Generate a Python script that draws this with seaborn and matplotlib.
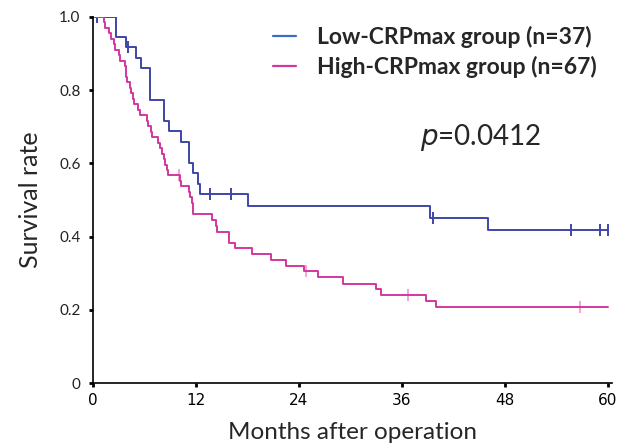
import pandas as pd
import matplotlib.pyplot as plt
import seaborn as sns

# Kaplan-Meier steps (time in months, survival after the step)
low_times = [0, 2.7, 3.9, 5.0, 5.6, 6.6, 6.7, 8.3, 8.9, 10.2, 11.2, 11.6, 12.2, 12.45,
             18.1, 39.3, 46.0, 60]
low_surv = [1.0, 0.944, 0.917, 0.888, 0.860, 0.831, 0.774, 0.717, 0.688, 0.659, 0.602,
            0.573, 0.545, 0.516, 0.484, 0.452, 0.417, 0.417]
low_cens_t = [0.5, 4.1, 13.6, 16.1, 39.6, 55.7, 59.1, 60.0]
low_cens_s = [1.0, 0.917, 0.516, 0.516, 0.452, 0.417, 0.417, 0.417]

high_times = [0, 1.3, 1.4, 1.9, 2.1, 2.5, 2.6, 3.0, 3.1, 3.7, 3.8, 3.9, 4.0, 4.3, 4.4,
              4.7, 4.8, 5.2, 5.5, 6.3, 6.4, 6.8, 6.9, 7.6, 7.8, 8.1, 8.3, 8.4, 8.6, 8.7,
              10.1, 10.2, 11.2, 11.3, 11.5, 11.6, 11.7, 13.9, 14.3, 14.5, 15.8, 15.9,
              16.6, 18.5, 20.8, 22.5, 24.6, 26.2, 29.1, 33.0, 33.5, 38.8, 40.0, 60]
high_surv = [1.0, 0.985, 0.970, 0.955, 0.940, 0.925, 0.910, 0.896, 0.881, 0.866, 0.851,
             0.836, 0.821, 0.806, 0.791, 0.776, 0.761, 0.746, 0.731, 0.716, 0.701, 0.687,
             0.672, 0.657, 0.642, 0.627, 0.612, 0.597, 0.582, 0.567, 0.552, 0.537, 0.522,
             0.507, 0.492, 0.477, 0.463, 0.445, 0.430, 0.413, 0.398, 0.383, 0.368, 0.352,
             0.337, 0.321, 0.306, 0.289, 0.272, 0.257, 0.241, 0.224, 0.208, 0.208]
high_cens_t = [10.0, 24.8, 36.7, 56.7]
high_cens_s = [0.567, 0.306, 0.241, 0.208]

low_label = "Low-CRPmax group (n=37)"
high_label = "High-CRPmax group (n=67)"
x_ticks = [0, 12, 24, 36, 48, 60]
y_ticks = [0, 0.2, 0.4, 0.6, 0.8, 1.0]
y_ticklabels = ["0", "0.2", "0.4", "0.6", "0.8", "1.0"]

blue = "#3d48a6"
pink = "#d2379e"

steps = pd.concat([
    pd.DataFrame({"time": low_times, "surv": low_surv, "group": low_label}),
    pd.DataFrame({"time": high_times, "surv": high_surv, "group": high_label}),
])
cens = pd.concat([
    pd.DataFrame({"time": low_cens_t, "surv": low_cens_s, "group": low_label}),
    pd.DataFrame({"time": high_cens_t, "surv": high_cens_s, "group": high_label}),
])

sns.set_style("white")
plt.rcParams["font.family"] = ["Lato", "DejaVu Sans"]

fig = plt.figure(figsize=(6.28, 4.46), dpi=100)
ax = fig.add_axes([0.148, 0.141, 0.827, 0.821])

sns.lineplot(data=steps, x="time", y="surv", hue="group", estimator=None,
             palette={low_label: blue, high_label: pink}, drawstyle="steps-post",
             linewidth=1.4, ax=ax, legend=False)
sns.scatterplot(data=cens[cens.group == low_label], x="time", y="surv", marker="|",
                s=70, linewidth=1.4, color=blue, ax=ax, legend=False)
sns.scatterplot(data=cens[cens.group == high_label], x="time", y="surv", marker="|",
                s=70, linewidth=1.4, color="#f2a6cf", ax=ax, legend=False)

ax.set_xlim(0, 60.5)
ax.set_ylim(0, 1.0)
ax.set_xticks(x_ticks)
ax.set_yticks(y_ticks)
ax.set_yticklabels(y_ticklabels)
for lab in ax.get_xticklabels():
    lab.set_family(["Liberation Sans Narrow", "DejaVu Sans"])
ax.tick_params(axis="both", direction="out", length=3, width=2, labelsize=11,
               colors="black", pad=4)
ax.tick_params(axis="y", labelcolor="#222222", pad=6)
ax.xaxis.set_ticks_position("bottom")
ax.yaxis.set_ticks_position("left")
sns.despine(ax=ax)
for side in ["left", "bottom"]:
    ax.spines[side].set_color("black")
    ax.spines[side].set_linewidth(1.2)

ax.set_xlabel("Months after operation", fontsize=17.5, labelpad=10)
ax.set_ylabel("Survival rate", fontsize=18, labelpad=12)

handles = [plt.Line2D([], [], color="#3a6fbf", lw=1.6),
           plt.Line2D([], [], color=pink, lw=1.6)]
ax.legend(handles, [low_label, high_label], loc="upper left",
          bbox_to_anchor=(0.33, 1.0), borderaxespad=0, frameon=False,
          handlelength=1.0, handletextpad=0.9, labelspacing=0.35,
          prop={"weight": "bold", "size": 16.5})

ax.text(0.63, 0.67, r"$p$=0.0412", transform=ax.transAxes, fontsize=20,
        ha="left", va="center", family=["Lato", "DejaVu Sans"])

fig.savefig("out.png", dpi=100)
